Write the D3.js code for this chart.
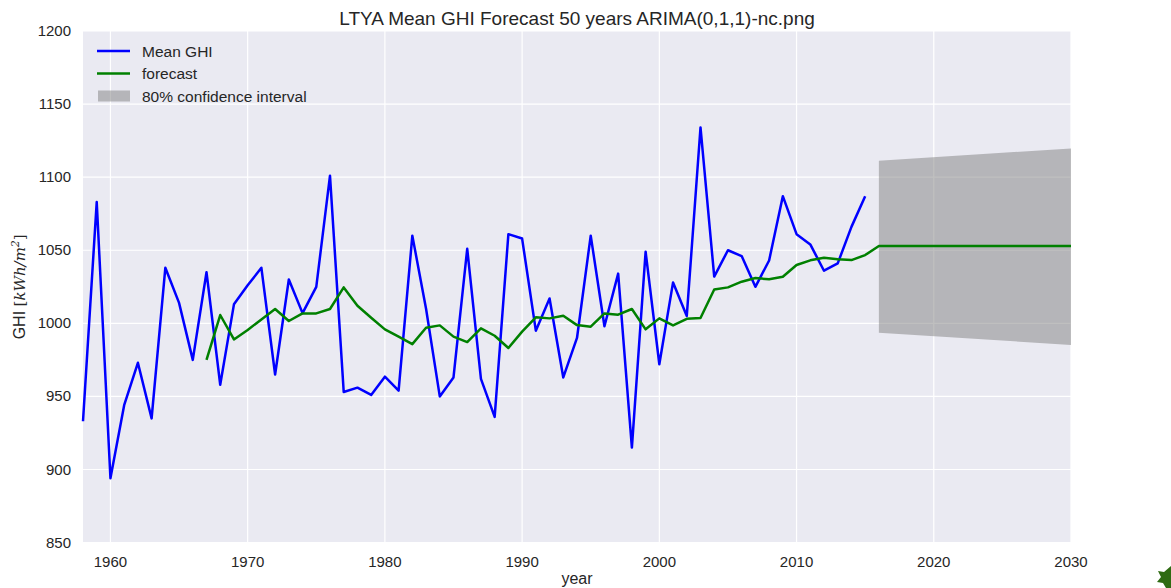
<!DOCTYPE html>
<html>
<head>
<meta charset="utf-8">
<script src="https://cdn.jsdelivr.net/npm/d3@7"></script>
<style>
  body { margin: 0; background: #fff; }
  text { font-family: "Liberation Sans", Arial, sans-serif; fill: #262626; }
</style>
</head>
<body>
<script>
// data
var ghiYears = d3.range(1958, 2016);
var ghiValues = [933, 1083, 894, 944, 973, 935, 1038, 1014, 975, 1035,
  958, 1013, 1026, 1038, 965, 1030, 1007, 1025, 1101, 953,
  956, 951, 963.5, 954, 1060, 1010, 950, 963, 1051, 962,
  936, 1061, 1058, 995, 1017, 963, 990, 1060, 998, 1034,
  915, 1049, 972, 1028, 1005, 1134, 1032, 1050, 1046, 1025,
  1043, 1087, 1061, 1054, 1036, 1041, 1066, 1087];

var forecastYears = d3.range(1967, 2031);
var forecastValues = [975, 1005.7, 989, 995.5, 1002.7, 1009.8, 1001.6, 1006.8, 1006.8, 1009.8,
  1024.6, 1012, 1003.8, 995.9, 990.9, 985.8, 997, 998.6, 990.9, 987.2,
  996.6, 991.5, 983.1, 994.3, 1004.1, 1003.4, 1005.2, 998.8, 997.7, 1006.8,
  1005.9, 1009.8, 995.9, 1003.4, 998.6, 1003.1, 1003.6, 1023.2, 1024.6, 1028.5,
  1031, 1030.1, 1031.9, 1039.9, 1043.1, 1044.9, 1043.8, 1043.3, 1046.7, 1052.9,
  1052.9, 1052.9, 1052.9, 1052.9, 1052.9, 1052.9, 1052.9, 1052.9, 1052.9, 1052.9,
  1052.9, 1052.9, 1052.9, 1052.9];

var ciYears = [2016, 2030];
var ciLower = [993.6, 985.2];
var ciUpper = [1111.2, 1119.7];

var xTicks = [1960, 1970, 1980, 1990, 2000, 2010, 2020, 2030];
var yTicks = [850, 900, 950, 1000, 1050, 1100, 1150, 1200];

var legendLabels = ['Mean GHI', 'forecast', '80% confidence interval'];

// ----------------------------------------------------------------------------
// layout
var width = 1171, height = 588;
var plotLeft = 83, plotRight = 1071, plotTop = 31, plotBottom = 542.6;

var svg = d3.select('body').append('svg')
  .attr('width', width)
  .attr('height', height);

var x = d3.scaleLinear().domain([1958, 2030]).range([plotLeft, plotRight]);
var y = d3.scaleLinear().domain([850, 1200]).range([plotBottom, plotTop]);

// background + grid
svg.append('rect')
  .attr('x', plotLeft).attr('y', plotTop)
  .attr('width', plotRight - plotLeft).attr('height', plotBottom - plotTop)
  .style('fill', '#eaeaf2');

svg.append('g').selectAll('line')
  .data(xTicks)
  .enter().append('line')
  .attr('x1', function (d) { return x(d); })
  .attr('x2', function (d) { return x(d); })
  .attr('y1', plotTop).attr('y2', plotBottom)
  .style('stroke', '#fff').style('stroke-width', 1.2);

svg.append('g').selectAll('line')
  .data(yTicks)
  .enter().append('line')
  .attr('x1', plotLeft).attr('x2', plotRight)
  .attr('y1', function (d) { return y(d); })
  .attr('y2', function (d) { return y(d); })
  .style('stroke', '#fff').style('stroke-width', 1.2);

// tick labels
svg.append('g').selectAll('text')
  .data(xTicks)
  .enter().append('text')
  .attr('x', function (d) { return x(d); })
  .attr('y', 567)
  .attr('text-anchor', 'middle')
  .style('font-size', '15px')
  .text(function (d) { return d; });

svg.append('g').selectAll('text')
  .data(yTicks)
  .enter().append('text')
  .attr('x', 71)
  .attr('y', function (d) { return y(d) + 5; })
  .attr('text-anchor', 'end')
  .style('font-size', '15px')
  .text(function (d) { return d; });

// confidence interval
var ciData = ciYears.map(function (yr, i) {
  return { year: yr, lo: ciLower[i], hi: ciUpper[i] };
});
svg.append('path')
  .datum(ciData)
  .attr('d', d3.area()
    .x(function (d) { return x(d.year); })
    .y0(function (d) { return y(d.lo); })
    .y1(function (d) { return y(d.hi); }))
  .style('fill', '#808080')
  .style('fill-opacity', 0.5);

// lines
var line = d3.line()
  .x(function (d) { return x(d[0]); })
  .y(function (d) { return y(d[1]); });

svg.append('path')
  .datum(d3.zip(ghiYears, ghiValues))
  .attr('d', line)
  .style('fill', 'none')
  .style('stroke', '#0000ff')
  .style('stroke-width', 2.5)
  .style('stroke-linejoin', 'round');

svg.append('path')
  .datum(d3.zip(forecastYears, forecastValues))
  .attr('d', line)
  .style('fill', 'none')
  .style('stroke', '#008000')
  .style('stroke-width', 2.5)
  .style('stroke-linejoin', 'round');

// legend
var legend = svg.append('g');
legendLabels.forEach(function (lab, i) {
  var ly = 51 + i * 22.5;
  if (i < 2) {
    legend.append('line')
      .attr('x1', 97).attr('x2', 130)
      .attr('y1', ly).attr('y2', ly)
      .style('stroke', i === 0 ? '#0000ff' : '#008000')
      .style('stroke-width', 2.5);
  } else {
    legend.append('rect')
      .attr('x', 98).attr('y', ly - 5.5)
      .attr('width', 32).attr('height', 11)
      .style('fill', '#808080').style('fill-opacity', 0.5);
  }
  legend.append('text')
    .attr('x', 142).attr('y', ly + 5.5)
    .style('font-size', '15.5px')
    .text(lab);
});

// title and axis labels
svg.append('text')
  .attr('x', (plotLeft + plotRight) / 2).attr('y', 25)
  .attr('text-anchor', 'middle')
  .style('font-size', '19px')
  .text('LTYA Mean GHI Forecast 50 years ARIMA(0,1,1)-nc.png');

svg.append('text')
  .attr('x', (plotLeft + plotRight) / 2).attr('y', 584)
  .attr('text-anchor', 'middle')
  .style('font-size', '16px')
  .text('year');

var ylab = svg.append('text')
  .attr('transform', 'translate(25,' + ((plotTop + plotBottom) / 2) + ') rotate(-90)')
  .attr('text-anchor', 'middle')
  .style('font-size', '16px');
ylab.append('tspan').text('GHI ');
ylab.append('tspan').style('font-family', '"DejaVu Serif", serif').style('font-size', '15px').text('[');
ylab.append('tspan').style('font-family', '"DejaVu Serif", serif').style('font-style', 'italic').style('font-size', '15px').text('kWh/m');
ylab.append('tspan').style('font-family', '"DejaVu Serif", serif').style('font-style', 'italic').style('font-size', '11px').attr('dy', -6).text('2');
ylab.append('tspan').style('font-family', '"DejaVu Serif", serif').style('font-size', '15px').attr('dy', 6).text(']');

// small green mark in the corner
svg.append('path')
  .attr('d', 'M1171,566 L1164,572 L1158,571 L1161,577 L1157,582 L1163,583 L1166,588 L1171,588 Z')
  .style('fill', '#2e6b12');
</script>
</body>
</html>
